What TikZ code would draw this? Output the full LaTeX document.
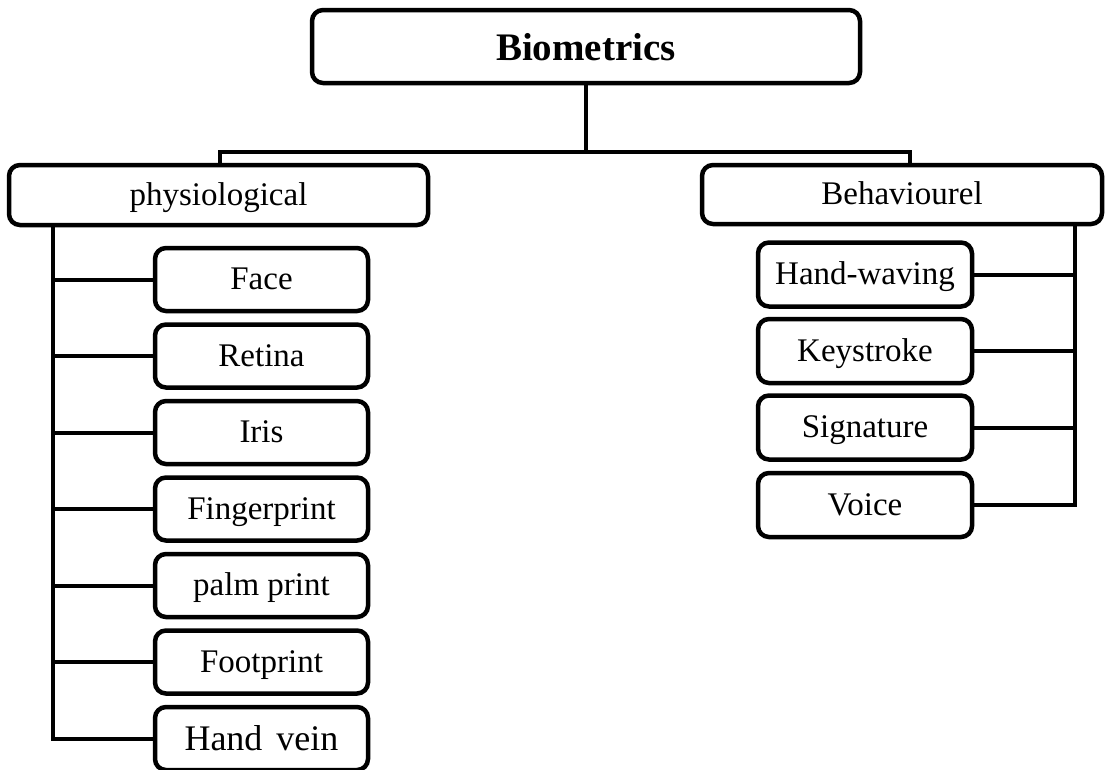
\documentclass[tikz,border=0pt]{standalone}
\usepackage{fontspec}
\setmainfont{Liberation Serif}
\begin{document}
\begin{tikzpicture}[x=1pt,y=-1pt,
  box/.style={draw=black, line width=4.5pt, rounded corners=11pt, fill=white,
    inner sep=0pt, text height=24pt, text depth=4pt,
    font=\fontsize{33}{40}\selectfont},
  leaf/.style={box, minimum width=213pt, minimum height=63pt},
  wire/.style={line width=4pt, line join=miter}]
\useasboundingbox (0,0) rectangle (1111,769);

% root and the two branches
\node[box, minimum width=548pt, minimum height=73pt, text height=30pt, text depth=3pt,
  font=\fontsize{39}{46}\selectfont\bfseries] (bio) at (586,46.5) {Biometrics};
\node[box, minimum width=419pt, minimum height=60pt] (phys) at (218.5,195) {physiological};
\node[box, minimum width=400pt, minimum height=59pt] (beh) at (902,194.5) {Behaviourel};

% physiological traits
\node[leaf] (face)  at (261.5,279.5) {Face};
\node[leaf] (ret)   at (261.5,356)   {Retina};
\node[leaf] (iris)  at (261.5,432.5) {Iris};
\node[leaf] (fing)  at (261.5,509)   {Fingerprint};
\node[leaf] (palm)  at (261.5,585.5) {palm print};
\node[leaf] (foot)  at (261.5,662)   {Footprint};
\node[leaf, text height=26pt, text depth=3pt,
  font=\fontsize{36}{42}\selectfont] (vein) at (261.5,738.5) {Hand\hspace{5pt} vein};

% behavioural traits
\node[leaf, minimum width=214pt, minimum height=64pt] (wave) at (865,274.5) {Hand-waving};
\node[leaf, minimum width=214pt, minimum height=64pt] (key)  at (865,351)   {Keystroke};
\node[leaf, minimum width=214pt, minimum height=64pt] (sig)  at (865,427.5) {Signature};
\node[leaf, minimum width=214pt, minimum height=64pt] (voice) at (865,505) {Voice};

% bus from the root to both branches
\coordinate (busL) at (220,152);
\coordinate (busR) at (910,152);
\draw[wire] (bio.south) -- (bio.south |- busL);
\draw[wire] (busL |- phys.north) -- (busL) -- (busR) -- (busR |- beh.north);

% left trunk
\coordinate (lt) at (53,225);
\draw[wire] (lt) |- (vein.west);
\foreach \n in {face,ret,iris,fing,palm,foot}
  \draw[wire] (\n.west) -- (\n.west -| lt);

% right trunk
\coordinate (rt) at (1075,224);
\draw[wire] (rt) |- (voice.east);
\foreach \n in {wave,key,sig}
  \draw[wire] (\n.east) -- (\n.east -| rt);
\end{tikzpicture}
\end{document}
